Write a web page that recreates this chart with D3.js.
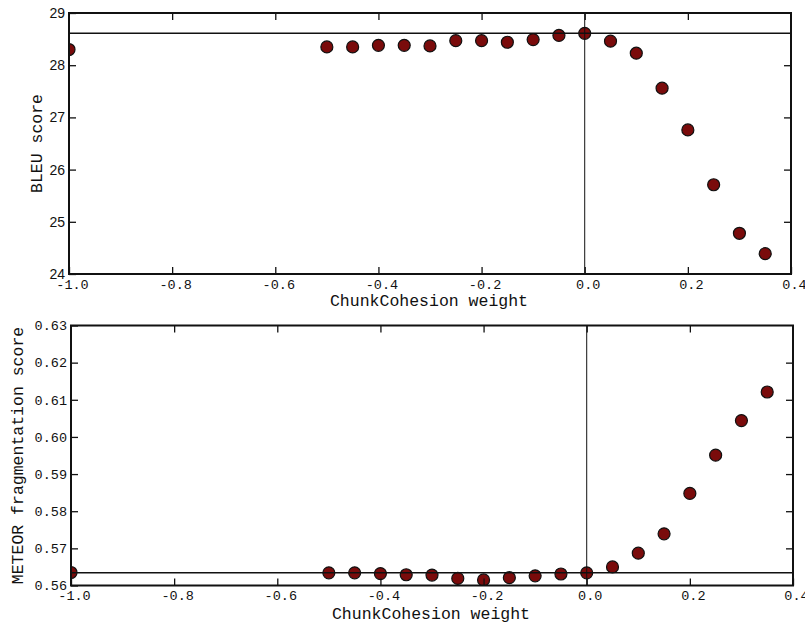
<!DOCTYPE html>
<html>
<head>
<meta charset="utf-8">
<script src="https://cdn.jsdelivr.net/npm/d3@7"></script>
<style>
  html, body { margin: 0; padding: 0; background: #fff; }
  svg { display: block; }
</style>
</head>
<body>
<svg id="chart" width="805" height="623"></svg>
<script>
// ---- data ----
const weights = [-1.0, -0.5, -0.45, -0.4, -0.35, -0.3, -0.25, -0.2, -0.15, -0.1, -0.05, 0.0, 0.05, 0.1, 0.15, 0.2, 0.25, 0.3, 0.35];
const bleu = [28.30, 28.35, 28.35, 28.38, 28.38, 28.37, 28.47, 28.47, 28.44, 28.49, 28.57, 28.61, 28.46, 28.23, 27.56, 26.76, 25.71, 24.78, 24.39];
const meteor = [0.5635, 0.5634, 0.5634, 0.5632, 0.5629, 0.5628, 0.5619, 0.5615, 0.5621, 0.5626, 0.5631, 0.5634, 0.5650, 0.5687, 0.5739, 0.5848, 0.5951, 0.6044, 0.6121];
const xTicks = [-1.0, -0.8, -0.6, -0.4, -0.2, 0.0, 0.2, 0.4];
const bleuTicks = [24, 25, 26, 27, 28, 29];
const meteorTicks = [0.56, 0.57, 0.58, 0.59, 0.60, 0.61, 0.62, 0.63];
const bleuBaseline = 28.61;
const meteorBaseline = 0.5634;
const xLabel = "ChunkCohesion weight";

const svg = d3.select("#chart");
const mono = "'Liberation Mono', 'DejaVu Sans Mono', monospace";
const sans = "'Liberation Sans', Arial, sans-serif";

function panel(cfg) {
  const { left, right, top, bottom, yDomain, yTicks, yFmt, yFont, yFontSize, values, baseline, yLabel, yLabelX, xLabelY, id } = cfg;
  const x = d3.scaleLinear().domain([-1.0, 0.4]).range([left, right]);
  const y = d3.scaleLinear().domain(yDomain).range([bottom, top]);
  const g = svg.append("g");

  g.append("clipPath").attr("id", id)
    .append("rect").attr("x", left).attr("y", top).attr("width", right - left).attr("height", bottom - top);

  // dots
  g.append("g").attr("clip-path", `url(#${id})`)
    .selectAll("circle").data(weights).join("circle")
    .attr("cx", d => x(d))
    .attr("cy", (d, i) => y(values[i]))
    .attr("r", 6)
    .attr("fill", "#7a0b0b")
    .attr("stroke", "#111")
    .attr("stroke-width", 1.2);

  // baseline & zero line
  g.append("line")
    .attr("x1", left).attr("x2", right)
    .attr("y1", y(baseline)).attr("y2", y(baseline))
    .attr("stroke", "#111").attr("stroke-width", 1.5);
  g.append("line")
    .attr("x1", x(0)).attr("x2", x(0))
    .attr("y1", top).attr("y2", bottom)
    .attr("stroke", "#111").attr("stroke-width", 1);

  // axes with inward ticks
  const tl = 7;
  const axB = d3.axisBottom(x).tickValues(xTicks).tickSize(-tl).tickFormat(d3.format(".1f"));
  const gB = g.append("g").attr("transform", `translate(0,${bottom})`).call(axB);
  gB.selectAll("text").attr("dy", null).attr("y", 14.5).attr("dx", 3)
    .attr("font-family", mono).attr("font-size", 13.5).attr("fill", "#111")
    .text(d => d3.format(".1f")(d).replace("−", "-"));
  const axT = d3.axisTop(x).tickValues(xTicks.slice(1, -1)).tickSize(-tl).tickFormat("");
  g.append("g").attr("transform", `translate(0,${top})`).call(axT);
  const axL = d3.axisLeft(y).tickValues(yTicks).tickSize(-tl).tickFormat(yFmt);
  const gL = g.append("g").attr("transform", `translate(${left},0)`).call(axL);
  gL.selectAll("text").attr("x", -4).attr("font-family", yFont).attr("font-size", yFontSize).attr("fill", "#111");
  const axR = d3.axisRight(y).tickValues(yTicks.slice(1, -1)).tickSize(-tl).tickFormat("");
  g.append("g").attr("transform", `translate(${right},0)`).call(axR);
  g.selectAll(".domain").remove();
  g.selectAll(".tick line").attr("stroke", "#111").attr("stroke-width", 1.3);

  // frame
  g.append("rect").attr("x", left).attr("y", top).attr("width", right - left).attr("height", bottom - top)
    .attr("fill", "none").attr("stroke", "#111").attr("stroke-width", 2);

  // labels
  g.append("text").attr("x", (left + right) / 2 - 1).attr("y", xLabelY)
    .attr("text-anchor", "middle").attr("font-family", mono).attr("font-size", 16.5).attr("fill", "#111")
    .text(xLabel);
  g.append("text")
    .attr("transform", `translate(${yLabelX},${(top + bottom) / 2}) rotate(-90)`)
    .attr("text-anchor", "middle").attr("font-family", mono).attr("font-size", 16.5).attr("fill", "#111")
    .text(yLabel);
}

panel({
  id: "clipTop", left: 69, right: 791, top: 13, bottom: 274,
  yDomain: [24, 29], yTicks: bleuTicks, yFmt: d3.format("d"), yFont: sans, yFontSize: 14,
  values: bleu, baseline: bleuBaseline, yLabel: "BLEU score", yLabelX: 42, xLabelY: 306
});
panel({
  id: "clipBot", left: 71, right: 793, top: 325.5, bottom: 585.5,
  yDomain: [0.56, 0.63], yTicks: meteorTicks, yFmt: d3.format(".2f"), yFont: mono, yFontSize: 13.5,
  values: meteor, baseline: meteorBaseline, yLabel: "METEOR fragmentation score", yLabelX: 23, xLabelY: 619
});
</script>
</body>
</html>
